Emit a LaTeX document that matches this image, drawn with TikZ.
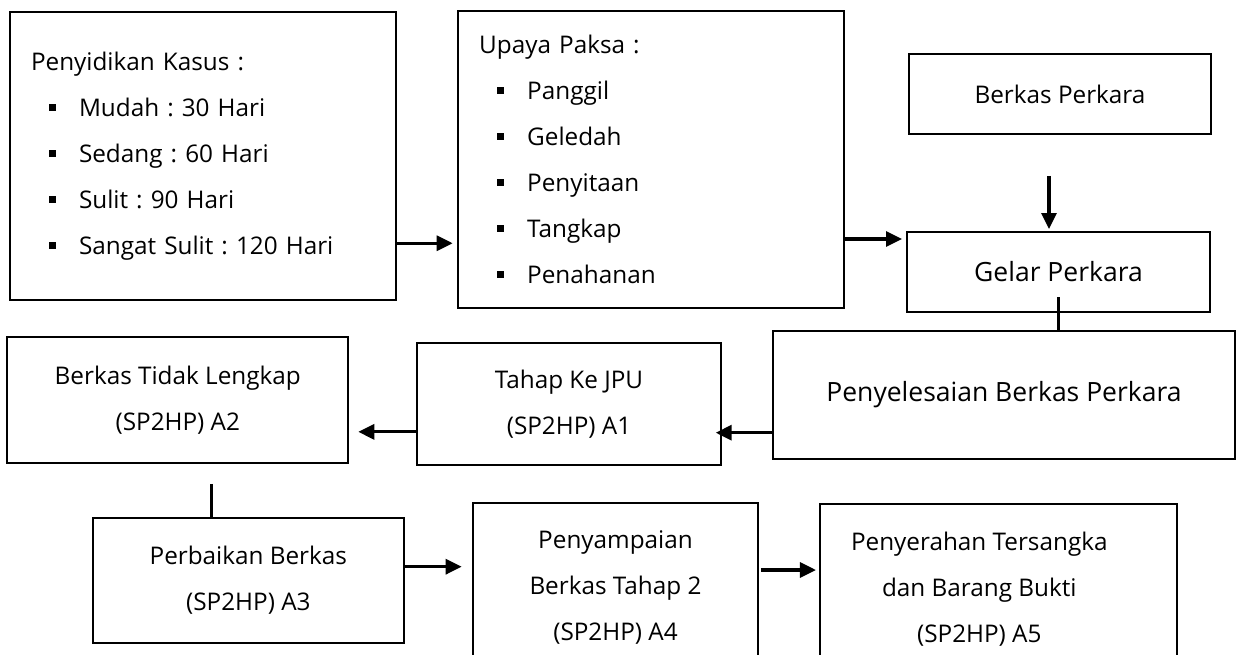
\documentclass[tikz,border=0pt]{standalone}
\usepackage{fontspec}
\setmainfont{Open Sans}
\usetikzlibrary{arrows.meta}
\frenchspacing

\newcommand{\bul}{\hspace*{18pt}\rule[6pt]{7pt}{7pt}\hspace*{23pt}}

\begin{document}
\begin{tikzpicture}[
  x=1pt,
  y=-1pt,
  font=\fontsize{24.3}{46}\selectfont,
  box/.style={draw, line width=2pt, align=center, inner sep=0pt},
  list/.style={box, align=left, inner xsep=21.5pt},
  big/.style={box, font=\fontsize{26.5}{46}\selectfont},
  arr/.style={-{Triangle[length=16pt,width=15pt]}, line width=3.2pt},
  ln/.style={line width=3pt}
]

\useasboundingbox (0,0) rectangle (1236,655);
\clip (0,0) rectangle (1236,655);

\node[list, text width=343.5pt, minimum height=287.5pt] (kasus) at (202.75,156.25) {Penyidikan Kasus :\\\bul Mudah : 30 Hari\\\bul Sedang : 60 Hari\\\bul Sulit : 90 Hari\\\bul Sangat Sulit : 120 Hari};
\node[list, text width=343.3pt, minimum height=297pt] (paksa) at (650.85,159.5) {Upaya Paksa :\\\bul Panggil\\\bul Geledah\\\bul Penyitaan\\\bul Tangkap\\\bul Penahanan};

\node[box, minimum width=302pt, minimum height=80pt] (berkas) at (1060,94) {Berkas Perkara};
\node[big, minimum width=303pt, minimum height=80pt] (gelar) at (1058.5,272) {Gelar Perkara};
\node[big, minimum width=462pt, minimum height=128pt] (penyel) at (1004,395) {Penyelesaian Berkas Perkara};

\node[box, minimum width=303.4pt, minimum height=122.3pt] (tahap) at (569,403.85) {Tahap Ke JPU\\(SP2HP) A1};
\node[box, minimum width=341pt, minimum height=126.6pt] (btl) at (177.8,400) {Berkas Tidak Lengkap\\(SP2HP) A2};

\node[box, minimum width=311.3pt, minimum height=125.3pt] (perbaikan) at (248.35,580.35) {Perbaikan Berkas\\(SP2HP) A3};
\node[box, minimum width=284.5pt, minimum height=168.7pt] (penyampaian) at (615.5,587.7) {Penyampaian\\Berkas Tahap 2\\(SP2HP) A4};
\node[box, minimum width=356.7pt, minimum height=168.5pt] (penyerahan) at (998.3,587.75) {\begin{tabular}{@{}c@{\hspace{38pt}}}Penyerahan Tersangka\\dan Barang Bukti\\(SP2HP) A5\end{tabular}};

\draw[arr, shorten >=4pt] (kasus.east) ++(0,87) coordinate (k1) -- (k1 -| paksa.west);
\draw[arr, shorten >=4pt] (paksa.east) ++(0,79.5) coordinate (p1) -- (p1 -| gelar.west);
\draw[arr, shorten >=2pt] (berkas.south) ++(-11,41) coordinate (b1) -- (b1 |- gelar.north);
\draw[ln] (gelar.south) ++(0,-16) coordinate (g1) -- (g1 |- penyel.north);

\draw[arr, shorten >=-6pt] (penyel.west) ++(0,37.7) coordinate (s1) -- (s1 -| tahap.east);
\draw[arr, shorten >=9pt] (tahap.west) ++(0,28) coordinate (t1) -- (t1 -| btl.east);
\draw[ln] (btl.south) ++(34,19.5) coordinate (l1) -- (l1 |- perbaikan.north);

\draw[arr, shorten >=10.6pt] (perbaikan.east) ++(0,-13.65) coordinate (r1) -- (r1 -| penyampaian.west);
\draw[arr, shorten >=3pt] (penyampaian.east) ++(2,-17.7) coordinate (m1) -- (m1 -| penyerahan.west);

\end{tikzpicture}
\end{document}
